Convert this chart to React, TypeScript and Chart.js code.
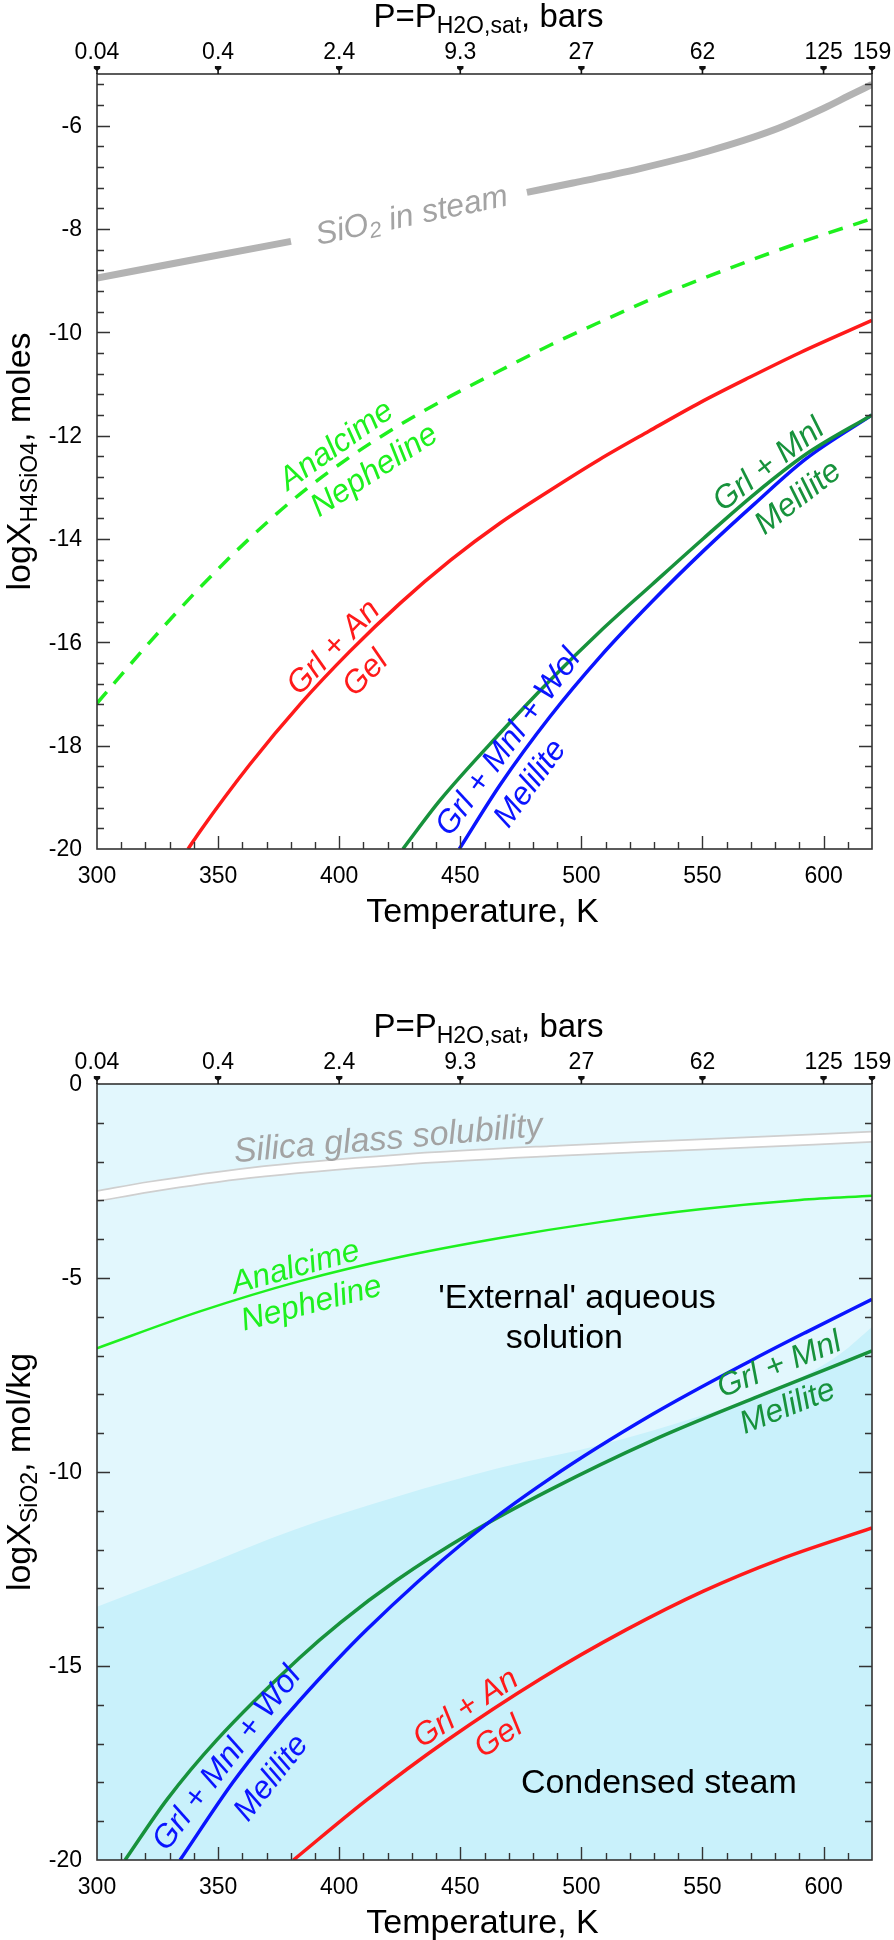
import React, { useEffect, useRef } from "react";
import { Chart, registerables } from "chart.js";
Chart.register(...registerables);

const FONT = "'Liberation Sans', Arial, sans-serif";

// ---------- shared axis data ----------
const tempMin = 300;
const tempMax = 620;
const tempTickLabels = [300, 350, 400, 450, 500, 550, 600];
const pressTemps = [300, 350, 400, 450, 500, 550, 600, 620];
const pressLabels = ["0.04", "0.4", "2.4", "9.3", "27", "62", "125", "159"];

// ---------- top chart (logX H4SiO4, moles) ----------
const topYMin = -20;
const topYMax = -5;
const topYTickLabels = [-6, -8, -10, -12, -14, -16, -18, -20];

const steamT = [300, 342.5, 380.1, 430, 477.5, 496.5, 524.2, 551.9, 579.1, 599.8, 610.1, 620];
const steamY = [-8.95, -8.57, -8.24, null, -7.29, -7.11, -6.83, -6.5, -6.09, -5.67, -5.43, -5.2];

const analcTopT = [300, 321.9, 342.5, 363.2, 383.8, 404.5, 425.1, 445.8, 466.4, 487, 507.7, 528.3, 549, 569.6, 590.3, 620];
const analcTopY = [-17.18, -15.99, -14.94, -13.98, -13.13, -12.41, -11.79, -11.24, -10.74, -10.25, -9.8, -9.37, -8.98, -8.61, -8.26, -7.8];

const gelTopT = [337.6, 342.5, 363, 384, 404.5, 425, 446, 466.5, 487, 507.5, 528, 549, 569.5, 590, 620];
const gelTopY = [-20, -19.66, -18.37, -17.19, -16.17, -15.25, -14.41, -13.69, -13.06, -12.46, -11.91, -11.36, -10.87, -10.4, -9.77];

const mnlTopT = [426.3, 441.6, 466.4, 487, 507.7, 529.2, 550.4, 571.5, 592.7, 620];
const mnlTopY = [-20, -19.06, -17.76, -16.74, -15.79, -14.88, -13.99, -13.13, -12.36, -11.6];

const wolTopT = [449.6, 466.4, 487, 507.7, 529.2, 550.4, 571.5, 592.7, 620];
const wolTopY = [-20, -18.76, -17.44, -16.28, -15.21, -14.23, -13.32, -12.45, -11.6];

// ---------- bottom chart (logX SiO2, mol/kg) ----------
const botYMin = -20;
const botYMax = 0;
const botYTickLabels = [0, -5, -10, -15, -20];

const glassT = [300, 321.9, 363.2, 425.1, 487, 549, 620];
const glassY = [-2.89, -2.65, -2.29, -1.95, -1.73, -1.56, -1.36];

const analcBotT = [300, 342.5, 383.8, 425.1, 466.4, 507.7, 549, 590.3, 620];
const analcBotY = [-6.81, -5.86, -5.08, -4.46, -3.97, -3.56, -3.23, -2.99, -2.88];

const steamBoundT = [300, 339.2, 381.5, 423.7, 466, 508.1, 550.4, 573.8, 592.7, 606.8, 620];
const steamBoundY = [-13.47, -12.53, -11.49, -10.64, -9.9, -9.3, -8.53, -8.02, -7.5, -6.96, -6.26];

const wolBotT = [334.3, 356.2, 370.2, 383.8, 411.1, 453.2, 487, 529.2, 571.5, 592.7, 620];
const wolBotY = [-20, -17.99, -16.87, -15.88, -14.08, -11.72, -10.17, -8.52, -7.08, -6.4, -5.55];

const mnlBotT = [311.6, 328.8, 349.4, 383.8, 400.5, 423.7, 453.2, 487, 529.2, 571.5, 620];
const mnlBotY = [-20, -18.45, -16.91, -14.78, -13.88, -12.79, -11.61, -10.46, -9.19, -8.09, -6.88];

const gelBotT = [381.1, 411.4, 444.4, 482.9, 518.4, 550.4, 582, 620];
const gelBotY = [-20, -18.45, -16.92, -15.34, -14.07, -13.07, -12.25, -11.44];

// ---------- colours ----------
const RED = "#ff1a1a";
const BLUE = "#0a14ff";
const DKGREEN = "#17923c";
const LTGREEN = "#1ef01e";
const GRAY_LINE = "#b3b3b3";
const GRAY_TEXT = "#a3a3a3";
const AXIS = "#333333";

type Part = { t: string; sub?: boolean };

function partsWidth(ctx: CanvasRenderingContext2D, parts: Part[], size: number, subSize: number, style: string) {
  let w = 0;
  for (const p of parts) {
    ctx.font = `${style} ${p.sub ? subSize : size}px ${FONT}`;
    w += ctx.measureText(p.t).width;
  }
  return w;
}

function drawParts(
  ctx: CanvasRenderingContext2D,
  parts: Part[],
  x: number,
  y: number,
  size: number,
  subSize: number,
  subDy: number,
  style: string,
  color: string,
  align: "center" | "left" | "right" = "center",
  baseline: CanvasTextBaseline = "alphabetic"
) {
  const w = partsWidth(ctx, parts, size, subSize, style);
  let cx = align === "center" ? x - w / 2 : align === "right" ? x - w : x;
  ctx.fillStyle = color;
  ctx.textBaseline = baseline;
  ctx.textAlign = "left";
  for (const p of parts) {
    ctx.font = `${style} ${p.sub ? subSize : size}px ${FONT}`;
    ctx.fillText(p.t, cx, y + (p.sub ? subDy : 0));
    cx += ctx.measureText(p.t).width;
  }
}

function interp(ts: number[], ys: (number | null)[], t: number) {
  const pts: [number, number][] = [];
  ts.forEach((tt, i) => {
    if (ys[i] !== null) pts.push([tt, ys[i] as number]);
  });
  if (t <= pts[0][0]) return pts[0][1];
  for (let i = 1; i < pts.length; i++) {
    if (t <= pts[i][0]) {
      const [t0, y0] = pts[i - 1];
      const [t1, y1] = pts[i];
      return y0 + ((y1 - y0) * (t - t0)) / (t1 - t0);
    }
  }
  return pts[pts.length - 1][1];
}

type CurveLabel = {
  parts: Part[];
  ts: number[];
  ys: (number | null)[];
  t: number;
  off: number;
  color: string;
  size: number;
  angle?: number;
};

type FreeLabel = {
  parts: Part[];
  t: number;
  y: number;
  color: string;
  size: number;
  style: string;
  angle: number;
};

type Spec = {
  yMin: number;
  yMax: number;
  yMinorStep: number;
  yMajorEvery: number;
  yLabels: number[];
  yTitle: Part[];
  background?: string;
  curveLabels: CurveLabel[];
  freeLabels: FreeLabel[];
};

function makePlugin(spec: Spec) {
  return {
    id: "paperAxes",
    beforeDatasetsDraw(chart: any) {
      if (!spec.background) return;
      const { ctx, chartArea: a } = chart;
      ctx.save();
      ctx.fillStyle = spec.background;
      ctx.fillRect(a.left, a.top, a.right - a.left, a.bottom - a.top);
      ctx.restore();
    },
    afterDatasetsDraw(chart: any) {
      const { ctx, chartArea: a } = chart;
      const xs = chart.scales.x;
      const ys = chart.scales.y;
      ctx.save();

      // labels lying along curves
      for (const L of spec.curveLabels) {
        const y0 = interp(L.ts, L.ys, L.t - 5);
        const y1 = interp(L.ts, L.ys, L.t + 5);
        const p0x = xs.getPixelForValue(L.t - 5);
        const p1x = xs.getPixelForValue(L.t + 5);
        const p0y = ys.getPixelForValue(y0);
        const p1y = ys.getPixelForValue(y1);
        let ang = Math.atan2(p1y - p0y, p1x - p0x);
        if (L.angle !== undefined) ang = (L.angle * Math.PI) / 180;
        const ux = Math.cos(ang);
        const uy = Math.sin(ang);
        const cx = xs.getPixelForValue(L.t) + L.off * -uy;
        const cy = ys.getPixelForValue(interp(L.ts, L.ys, L.t)) + L.off * ux;
        ctx.save();
        ctx.translate(cx, cy);
        ctx.rotate(ang);
        drawParts(ctx, L.parts, 0, 0, L.size, Math.round(L.size * 0.68), 7, "italic", L.color, "center", "middle");
        ctx.restore();
      }
      for (const L of spec.freeLabels) {
        ctx.save();
        ctx.translate(xs.getPixelForValue(L.t), ys.getPixelForValue(L.y));
        ctx.rotate((L.angle * Math.PI) / 180);
        drawParts(ctx, L.parts, 0, 0, L.size, Math.round(L.size * 0.68), 7, L.style, L.color, "center", "alphabetic");
        ctx.restore();
      }

      // frame
      ctx.strokeStyle = AXIS;
      ctx.lineWidth = 1.6;
      ctx.strokeRect(a.left, a.top, a.right - a.left, a.bottom - a.top);

      // bottom ticks (temperature)
      ctx.lineWidth = 1.4;
      ctx.beginPath();
      for (let t = tempMin + 10; t < tempMax; t += 10) {
        const px = Math.round(xs.getPixelForValue(t)) + 0.5;
        const len = t % 50 === 0 ? 13 : 7;
        ctx.moveTo(px, a.bottom);
        ctx.lineTo(px, a.bottom - len);
      }
      // left & right ticks
      const n = Math.round((spec.yMax - spec.yMin) / spec.yMinorStep);
      for (let k = 1; k < n; k++) {
        const v = spec.yMin + k * spec.yMinorStep;
        const py = Math.round(ys.getPixelForValue(v)) + 0.5;
        const len = k % spec.yMajorEvery === 0 ? 13 : 7;
        ctx.moveTo(a.left, py);
        ctx.lineTo(a.left + len, py);
        ctx.moveTo(a.right, py);
        ctx.lineTo(a.right - len, py);
      }
      ctx.stroke();

      // pressure markers on top axis
      ctx.fillStyle = "#111";
      for (const t of pressTemps) {
        const px = xs.getPixelForValue(t);
        ctx.fillRect(px - 0.8, a.top - 6, 1.6, 6);
        ctx.beginPath();
        ctx.moveTo(px - 3.2, a.top - 8);
        ctx.lineTo(px + 3.2, a.top - 8);
        ctx.lineTo(px + 3.2, a.top - 5.5);
        ctx.lineTo(px, a.top - 3);
        ctx.lineTo(px - 3.2, a.top - 5.5);
        ctx.closePath();
        ctx.fill();
      }

      // tick labels
      ctx.fillStyle = "#000";
      ctx.font = `23px ${FONT}`;
      ctx.textAlign = "center";
      ctx.textBaseline = "alphabetic";
      for (const t of tempTickLabels) ctx.fillText(String(t), xs.getPixelForValue(t), a.bottom + 34);
      pressTemps.forEach((t, i) => ctx.fillText(pressLabels[i], xs.getPixelForValue(t), a.top - 15));
      ctx.textAlign = "right";
      ctx.textBaseline = "middle";
      for (const v of spec.yLabels) ctx.fillText(String(v), a.left - 15, ys.getPixelForValue(v) + 1);

      // titles
      const midX = (a.left + a.right) / 2;
      drawParts(
        ctx,
        [{ t: "P=P" }, { t: "H2O,sat", sub: true }, { t: ", bars" }],
        midX + 4,
        a.top - 47,
        33,
        23,
        6,
        "normal",
        "#000"
      );
      drawParts(ctx, [{ t: "Temperature, K" }], midX - 2, a.bottom + 73, 34, 23, 0, "normal", "#000");
      ctx.save();
      ctx.translate(30, (a.top + a.bottom) / 2);
      ctx.rotate(-Math.PI / 2);
      drawParts(ctx, spec.yTitle, 0, 0, 34, 23, 7, "normal", "#000");
      ctx.restore();

      ctx.restore();
    },
  };
}

function line(ts: number[], ys: (number | null)[], color: string, width: number, extra: any = {}) {
  return {
    data: ts.map((t, i) => ({ x: t, y: ys[i] })),
    borderColor: color,
    backgroundColor: color,
    borderWidth: width,
    pointRadius: 0,
    showLine: true,
    spanGaps: false,
    cubicInterpolationMode: "monotone",
    fill: false,
    ...extra,
  };
}

function baseOptions(yMin: number, yMax: number, bottomPad: number) {
  return {
    responsive: false,
    maintainAspectRatio: false,
    animation: false,
    devicePixelRatio: 1,
    layout: { padding: { left: 97, right: 22, top: 74, bottom: bottomPad } },
    plugins: { legend: { display: false }, tooltip: { enabled: false }, title: { display: false } },
    events: [],
    scales: {
      x: { type: "linear", min: tempMin, max: tempMax, display: false },
      y: { type: "linear", min: yMin, max: yMax, display: false },
    },
  };
}

function buildTop() {
  const spec: Spec = {
    yMin: topYMin,
    yMax: topYMax,
    yMinorStep: 0.4,
    yMajorEvery: 5,
    yLabels: topYTickLabels,
    yTitle: [{ t: "logX" }, { t: "H4SiO4", sub: true }, { t: ", moles" }],
    curveLabels: [
      { parts: [{ t: "SiO" }, { t: "2", sub: true }, { t: " in steam" }], ts: steamT, ys: steamY, t: 430, off: 0, color: GRAY_TEXT, size: 32 },
      { parts: [{ t: "Analcime" }], ts: analcTopT, ys: analcTopY, t: 403, off: -17, color: LTGREEN, size: 32 },
      { parts: [{ t: "Nepheline" }], ts: analcTopT, ys: analcTopY, t: 409, off: 25, color: LTGREEN, size: 32 },
      { parts: [{ t: "Grl + An" }], ts: gelTopT, ys: gelTopY, t: 402, off: -14, color: RED, size: 32 },
      { parts: [{ t: "Gel" }], ts: gelTopT, ys: gelTopY, t: 403, off: 27, color: RED, size: 32 },
      { parts: [{ t: "Grl + Mnl + Wol" }], ts: wolTopT, ys: wolTopY, t: 476, off: -18, color: BLUE, size: 32 },
      { parts: [{ t: "Melilite" }], ts: wolTopT, ys: wolTopY, t: 471, off: 24, color: BLUE, size: 32 },
      { parts: [{ t: "Grl + Mnl" }], ts: mnlTopT, ys: mnlTopY, t: 581, off: -14, color: DKGREEN, size: 32 },
      { parts: [{ t: "Melilite" }], ts: mnlTopT, ys: mnlTopY, t: 582, off: 30, color: DKGREEN, size: 32 },
    ],
    freeLabels: [],
  };
  return {
    type: "scatter",
    data: {
      datasets: [
        line(steamT, steamY, GRAY_LINE, 7, { borderCapStyle: "butt" }),
        line(analcTopT, analcTopY, LTGREEN, 3.5, { borderDash: [15, 11] }),
        line(gelTopT, gelTopY, RED, 3.5),
        line(mnlTopT, mnlTopY, DKGREEN, 3.5),
        line(wolTopT, wolTopY, BLUE, 3.5),
      ],
    },
    options: baseOptions(topYMin, topYMax, 1010 - 849),
    plugins: [makePlugin(spec)],
  };
}

function buildBottom() {
  const spec: Spec = {
    yMin: botYMin,
    yMax: botYMax,
    yMinorStep: 1,
    yMajorEvery: 5,
    yLabels: botYTickLabels,
    yTitle: [{ t: "logX" }, { t: "SiO2", sub: true }, { t: ", mol/kg" }],
    background: "#e2f7fd",
    curveLabels: [
      { parts: [{ t: "Silica glass solubility" }], ts: glassT, ys: glassY, t: 421, off: -21, color: GRAY_TEXT, size: 34 },
      { parts: [{ t: "Analcime" }], ts: analcBotT, ys: analcBotY, t: 383.5, off: -14, color: LTGREEN, size: 32 },
      { parts: [{ t: "Nepheline" }], ts: analcBotT, ys: analcBotY, t: 386, off: 25, color: LTGREEN, size: 32 },
      { parts: [{ t: "Grl + Mnl" }], ts: mnlBotT, ys: mnlBotY, t: 585, off: -21, color: DKGREEN, size: 32 },
      { parts: [{ t: "Melilite" }], ts: mnlBotT, ys: mnlBotY, t: 582, off: 21, color: DKGREEN, size: 32 },
      { parts: [{ t: "Grl + Mnl + Wol" }], ts: wolBotT, ys: wolBotY, t: 360, off: -19, color: BLUE, size: 32 },
      { parts: [{ t: "Melilite" }], ts: wolBotT, ys: wolBotY, t: 363, off: 28, color: BLUE, size: 32 },
      { parts: [{ t: "Grl + An" }], ts: gelBotT, ys: gelBotY, t: 456, off: -16, color: RED, size: 32 },
      { parts: [{ t: "Gel" }], ts: gelBotT, ys: gelBotY, t: 460, off: 26, color: RED, size: 32 },
    ],
    freeLabels: [
      { parts: [{ t: "'External' aqueous" }], t: 498.2, y: -5.77, color: "#000", size: 34, style: "normal", angle: 0 },
      { parts: [{ t: "solution" }], t: 493, y: -6.8, color: "#000", size: 34, style: "normal", angle: 0 },
      { parts: [{ t: "Condensed steam" }], t: 532, y: -18.27, color: "#000", size: 34, style: "normal", angle: 0 },
    ],
  };
  return {
    type: "scatter",
    data: {
      datasets: [
        line(steamBoundT, steamBoundY, "rgba(0,0,0,0)", 0, { fill: "start", backgroundColor: "#c9f1fb", order: 100 }),
        line(glassT, glassY, "#cfcfcf", 12, { order: 50 }),
        line(glassT, glassY, "#ffffff", 8.5, { order: 40 }),
        line(analcBotT, analcBotY, LTGREEN, 2.5, { order: 30 }),
        line(gelBotT, gelBotY, RED, 3.5, { order: 20 }),
        line(mnlBotT, mnlBotY, DKGREEN, 3.5, { order: 10 }),
        line(wolBotT, wolBotY, BLUE, 3.5, { order: 5 }),
      ],
    },
    options: baseOptions(botYMin, botYMax, 930 - 850),
    plugins: [makePlugin(spec)],
  };
}

function ChartCanvas({ build, width, height }: { build: () => any; width: number; height: number }) {
  const ref = useRef<HTMLCanvasElement>(null);
  useEffect(() => {
    const chart = new Chart(ref.current as HTMLCanvasElement, build());
    return () => chart.destroy();
  }, []);
  return <canvas ref={ref} width={width} height={height} style={{ display: "block", width, height }} />;
}

export default function App() {
  return (
    <div style={{ position: "absolute", left: 0, top: 0, width: 894, height: 1940, background: "#ffffff" }}>
      <ChartCanvas build={buildTop} width={894} height={1010} />
      <ChartCanvas build={buildBottom} width={894} height={930} />
    </div>
  );
}
